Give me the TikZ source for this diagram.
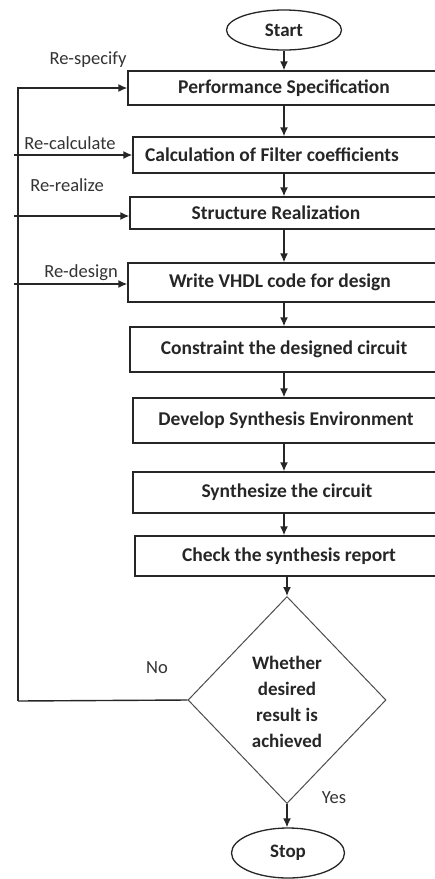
\documentclass[tikz,border=0pt]{standalone}
\usepackage{fontspec}
\setmainfont{Carlito}
\usetikzlibrary{shapes.geometric,arrows.meta}
\begin{document}
\begin{tikzpicture}[x=1pt,y=-1pt,
  line/.style={draw=black!85,line width=1.4pt},
  arr/.style={line,-{Latex[length=9pt,width=8pt]}},
  stepbox/.style={line,rectangle,inner sep=0pt},
  steptext/.style={font=\fontsize{19.5}{23}\selectfont\bfseries,text=black!85,inner sep=0pt},
  terminal/.style={draw=black!85,line width=1.3pt,ellipse,inner sep=0pt,
    font=\fontsize{19}{23}\selectfont\bfseries,text=black!85},
  decision/.style={draw=black!70,line width=1pt,diamond,inner sep=0pt},
  tag/.style={font=\fontsize{18.5}{22}\selectfont,text=black!80,inner sep=0pt}]
\useasboundingbox (0,0) rectangle (435,879);
\clip (0,0) rectangle (435,879);

% terminals
\node[terminal,minimum width=115pt,minimum height=40pt] (start) at (284,30) {Start};
\node[terminal,minimum width=113pt,minimum height=50pt] (stop) at (288,853) {Stop};

% process boxes (open to the right)
\node[stepbox,minimum width=317pt,minimum height=34pt] (perf)   at (286.5,88)  {};
\node[stepbox,minimum width=312pt,minimum height=36pt] (calc)   at (289,155)   {};
\node[stepbox,minimum width=315pt,minimum height=32pt] (struct) at (287.5,213) {};
\node[stepbox,minimum width=317pt,minimum height=39pt] (vhdl)   at (286.5,282.5) {};
\node[stepbox,minimum width=315pt,minimum height=45pt] (cons)   at (287.5,349.5) {};
\node[stepbox,minimum width=312pt,minimum height=45pt] (dev)    at (289,420.5) {};
\node[stepbox,minimum width=312pt,minimum height=41pt] (synth)  at (289,492.5) {};
\node[stepbox,minimum width=310pt,minimum height=40pt] (check)  at (290,556)   {};

\node[steptext] (perfT)   at (284,88)    {Performance Specification};
\node[steptext] (calcT)   at (272,155)   {Calculation of Filter coefficients};
\node[steptext] (structT) at (276,213)   {Structure Realization};
\node[steptext] (vhdlT)   at (280,282.5) {Write VHDL code for design};
\node[steptext] (consT)   at (284,349.5) {Constraint the designed circuit};
\node[steptext] (devT)    at (286,420.5) {Develop Synthesis Environment};
\node[steptext] (synthT)  at (287,492.5) {Synthesize the circuit};
\node[steptext] (checkT)  at (289,556)   {Check the synthesis report};

% decision
\node[decision,minimum width=198pt,minimum height=207pt] (dec) at (287,700) {};
\node[steptext,align=center,font=\fontsize{19}{26}\selectfont\bfseries] (decT) at (287,702)
  {Whether\\desired\\result is\\achieved};

% main flow
\coordinate (axis) at (284,0);
\draw[arr] (start.south) -- (start.south |- perf.north);
\draw[arr] (perf.south -| axis) -- (calc.north -| axis);
\draw[arr] (calc.south -| axis) -- (struct.north -| axis);
\draw[arr] (struct.south -| axis) -- (vhdl.north -| axis);
\draw[arr] (vhdl.south -| axis) -- (cons.north -| axis);
\draw[arr] (cons.south -| axis) -- (dev.north -| axis);
\draw[arr] (dev.south -| axis) -- (synth.north -| axis);
\draw[arr] (synth.south -| axis) -- (check.north -| axis);
\draw[arr] (check.south -| dec.north) -- (dec.north);
\draw[arr] (dec.south) -- (dec.south |- stop.north);

% feedback loop
\coordinate (fb) at (18,701);
\draw[line] (dec.west) -- (fb);
\draw[arr] (fb) |- (perf.west);
\draw[arr] (14,155) -- (calc.west);
\draw[arr] (14,216) -- (struct.west |- 0,216);
\draw[arr] (14,284) -- (vhdl.west |- 0,284);

% labels
\node[tag] (lspec)  at (88,60)   {Re-specify};
\node[tag] (lcalc)  at (70,143)  {Re-calculate};
\node[tag] (lreal)  at (67,185)  {Re-realize};
\node[tag] (ldes)   at (81,273)  {Re-design};
\node[tag] (lno)    at (157,668) {No};
\node[tag] (lyes)   at (334,798) {Yes};
\end{tikzpicture}
\end{document}
